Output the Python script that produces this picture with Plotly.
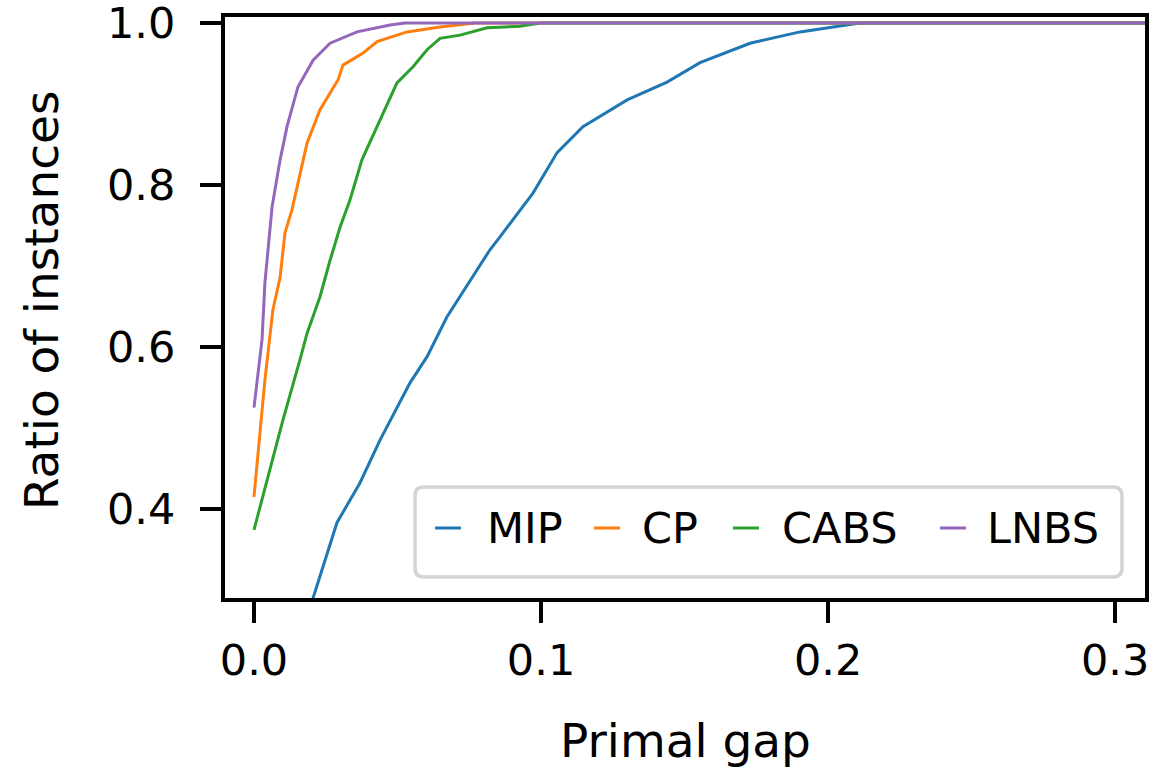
import plotly.graph_objects as go

# Cumulative ratio of instances solved within a given primal gap
mip_gap = [0.017, 0.0206, 0.0289, 0.0369, 0.0439, 0.0544, 0.0603, 0.0672, 0.0822, 0.0857,
           0.0972, 0.1056, 0.1146, 0.1300, 0.1439, 0.1554, 0.1728, 0.1902, 0.2017, 0.2111, 0.35]
mip_ratio = [0.25, 0.290, 0.383, 0.432, 0.485, 0.556, 0.588, 0.637, 0.720, 0.736,
             0.790, 0.840, 0.872, 0.905, 0.927, 0.951, 0.975, 0.989, 0.995, 1.0, 1.0]

cp_gap = [0.0, 0.0021, 0.0038, 0.0066, 0.0091, 0.0108, 0.0132, 0.0185, 0.0230, 0.0293,
          0.0310, 0.0380, 0.0429, 0.0533, 0.0648, 0.077, 0.35]
cp_ratio = [0.415, 0.498, 0.559, 0.646, 0.686, 0.741, 0.769, 0.852, 0.893, 0.930,
            0.948, 0.963, 0.977, 0.989, 0.995, 1.0, 1.0]

cabs_gap = [0.0, 0.0021, 0.0056, 0.0101, 0.0160, 0.0185, 0.0230, 0.0265, 0.0300, 0.0334,
            0.0376, 0.0439, 0.0498, 0.0554, 0.0603, 0.0648, 0.0718, 0.0812, 0.0927, 0.0997, 0.35]
cabs_ratio = [0.374, 0.402, 0.452, 0.510, 0.584, 0.617, 0.662, 0.707, 0.748, 0.781,
              0.831, 0.880, 0.926, 0.946, 0.967, 0.981, 0.985, 0.994, 0.996, 1.0, 1.0]

lnbs_gap = [0.0, 0.0028, 0.0038, 0.0056, 0.0063, 0.0091, 0.0115, 0.0153, 0.0206, 0.0265,
            0.0359, 0.0474, 0.0526, 0.35]
lnbs_ratio = [0.525, 0.609, 0.679, 0.741, 0.773, 0.831, 0.872, 0.921, 0.954, 0.975,
              0.989, 0.9975, 1.0, 1.0]

methods = ["MIP", "CP", "CABS", "LNBS"]
gaps = [mip_gap, cp_gap, cabs_gap, lnbs_gap]
ratios = [mip_ratio, cp_ratio, cabs_ratio, lnbs_ratio]
colors = ["#1f77b4", "#ff7f0e", "#2ca02c", "#9467bd"]

x_ticks = [0.0, 0.1, 0.2, 0.3]
y_ticks = [0.4, 0.6, 0.8, 1.0]

FONT = "DejaVu Sans"
TICK_SIZE = 43
TITLE_SIZE = 47

# plot-area geometry in pixels
W, H = 1176, 767
L, R, T, B = 225, 31, 17, 169
PW, PH = W - L - R, H - T - B


def px(x):
    return (x - L) / PW


def py(y):
    return (H - B - y) / PH


fig = go.Figure()
for name, xs, ys, color in zip(methods, gaps, ratios, colors):
    fig.add_trace(go.Scatter(x=xs, y=ys, name=name, mode="lines", showlegend=False,
                             line=dict(color=color, width=3.0)))

axis_common = dict(
    showline=True, linecolor="black", linewidth=4, mirror=True,
    ticks="outside", ticklen=21, tickwidth=3.5, tickcolor="black",
    showgrid=False, zeroline=False, ticklabeloverflow="allow", automargin=False,
    tickfont=dict(family=FONT, size=TICK_SIZE, color="black"),
)

fig.update_xaxes(range=[-0.0101, 0.3104], tickvals=x_ticks,
                 ticktext=[f"{v:.1f}" for v in x_ticks],
                 ticklabelstandoff=0, **axis_common)
fig.update_yaxes(range=[0.290, 1.0074], tickvals=y_ticks,
                 ticktext=[f"{v:.1f}" for v in y_ticks],
                 ticklabelstandoff=16, **axis_common)

# axis titles
fig.add_annotation(text="Primal gap", x=0.5, y=py(740), xref="paper", yref="paper",
                   showarrow=False, xanchor="center", yanchor="middle",
                   font=dict(family=FONT, size=TITLE_SIZE, color="black"))
fig.add_annotation(text="Ratio of instances", x=px(41), y=py(301), xref="paper", yref="paper",
                   showarrow=False, xanchor="center", yanchor="middle", textangle=-90,
                   font=dict(family=FONT, size=TITLE_SIZE, color="black"))

# legend: rounded frame, short line handles and labels
bx0, bx1, by0, by1, rad = 415, 1122, 487, 577, 9
fx0, fx1, fy0, fy1 = px(bx0), px(bx1), py(by0), py(by1)
rx, ry = rad / PW, rad / PH
frame = (f"M {fx0+rx},{fy0} L {fx1-rx},{fy0} Q {fx1},{fy0} {fx1},{fy0-ry} "
         f"L {fx1},{fy1+ry} Q {fx1},{fy1} {fx1-rx},{fy1} L {fx0+rx},{fy1} "
         f"Q {fx0},{fy1} {fx0},{fy1+ry} L {fx0},{fy0-ry} Q {fx0},{fy0} {fx0+rx},{fy0} Z")
fig.add_shape(type="path", path=frame, xref="paper", yref="paper",
              line=dict(color="#d4d4d4", width=3.5), fillcolor="white", layer="above")

handle_x = [435, 594, 733, 940]
label_x = [485, 640, 780, 985]
row_y = 528
for name, color, hx, lx in zip(methods, colors, handle_x, label_x):
    fig.add_shape(type="line", x0=px(hx), x1=px(hx + 26), y0=py(row_y), y1=py(row_y),
                  xref="paper", yref="paper", layer="above",
                  line=dict(color=color, width=3.0))
    fig.add_annotation(text=name, x=px(lx), y=py(row_y), xref="paper", yref="paper",
                       showarrow=False, xanchor="left", yanchor="middle",
                       font=dict(family=FONT, size=TICK_SIZE, color="black"))

fig.update_layout(
    width=W, height=H,
    margin=dict(l=L, r=R, t=T, b=B, autoexpand=False),
    paper_bgcolor="white", plot_bgcolor="white",
    font=dict(family=FONT, color="black"),
    showlegend=False,
)

fig.write_html("out.html")
